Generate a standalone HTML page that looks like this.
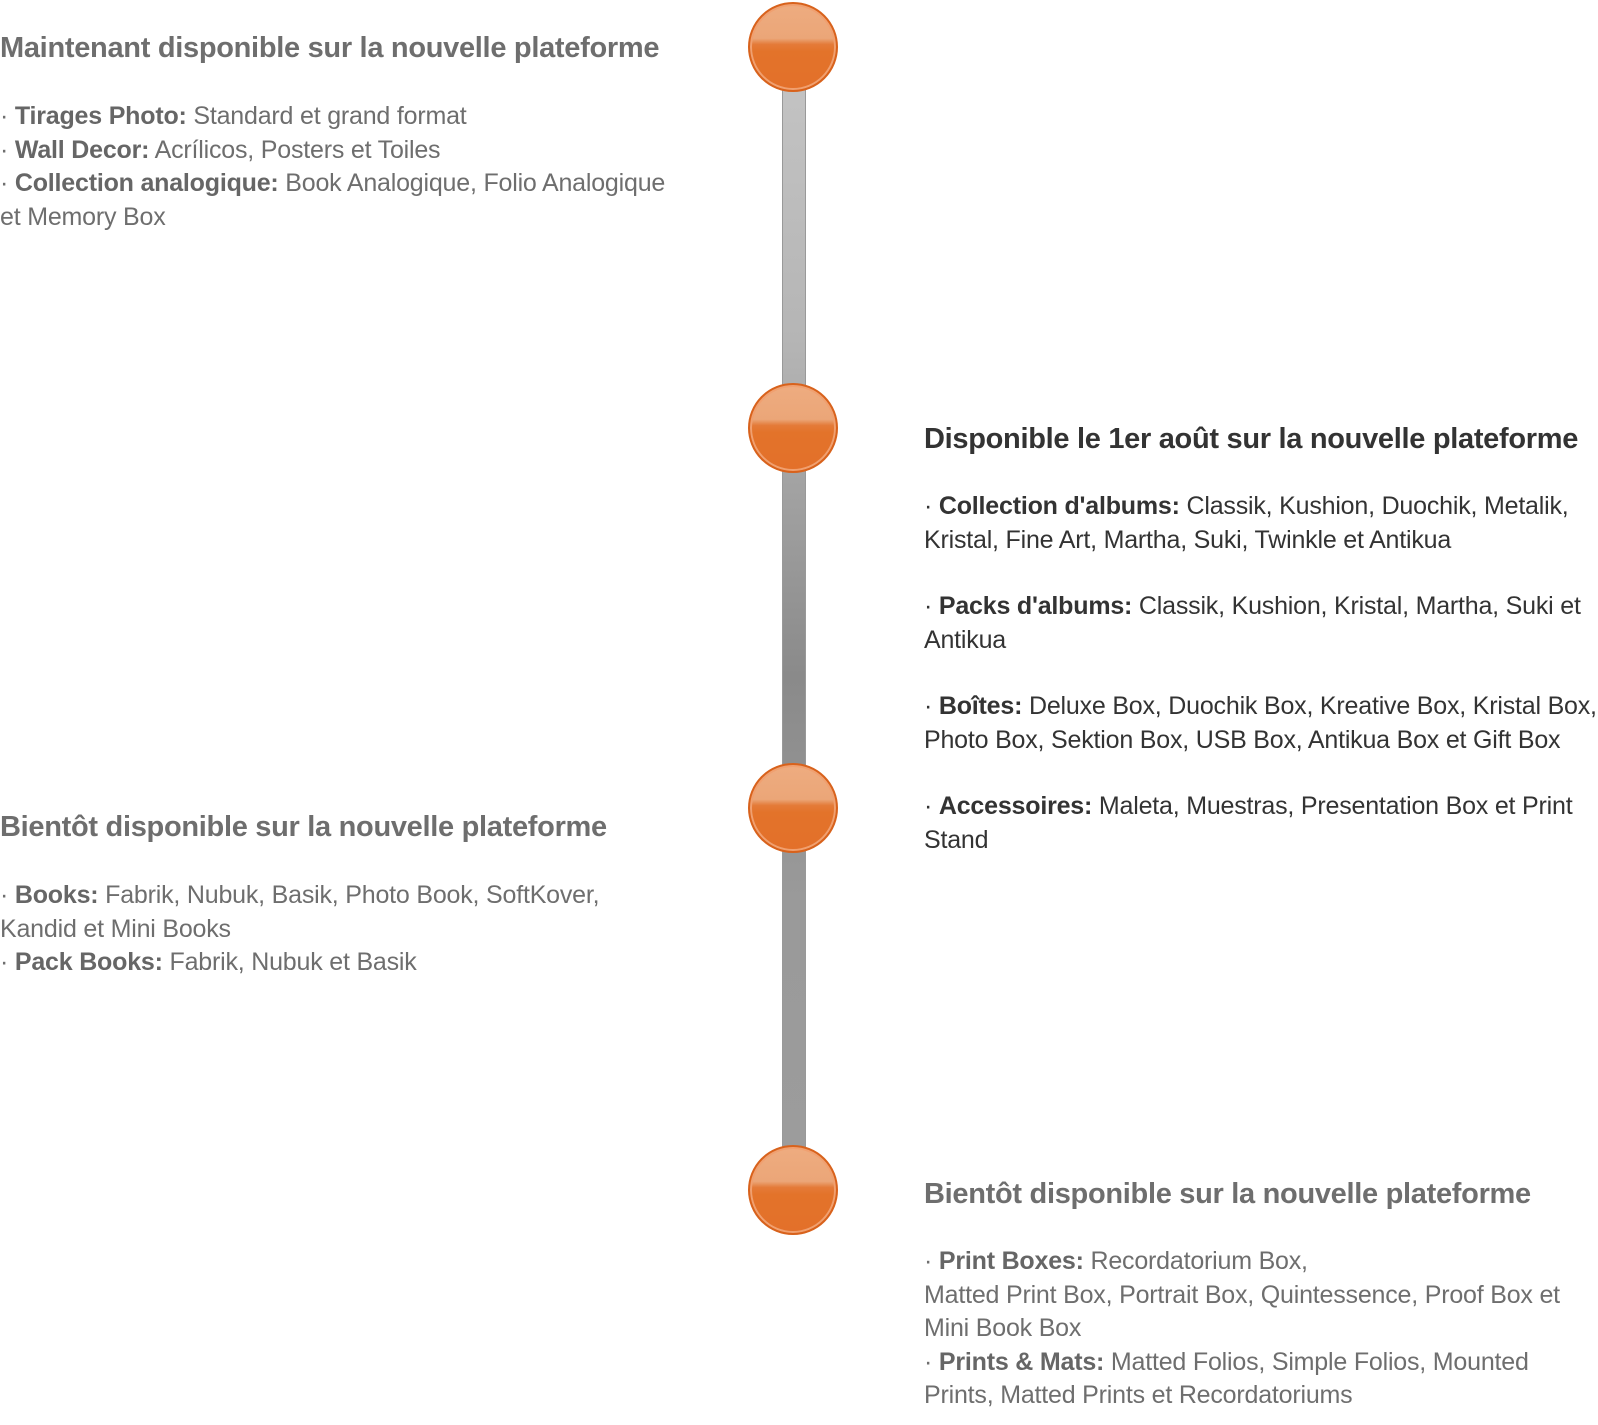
<!DOCTYPE html>
<html><head><meta charset="utf-8"><style>
html,body{margin:0;padding:0;background:#fff;width:1598px;height:1425px;overflow:hidden;position:relative;font-family:"Liberation Sans",sans-serif}
.t{position:absolute;font-weight:bold;font-size:29px;line-height:34px;color:#6e6e6e;white-space:nowrap;letter-spacing:-0.3px}
.b{position:absolute;font-size:25px;line-height:33.5px;color:#6e6e6e;white-space:nowrap;letter-spacing:-0.2px}
.b b{color:#666}
.d,.d b{color:#333}
.bar{position:absolute;left:782px;width:24px;top:60px;height:1120px;background:linear-gradient(#c4c4c4,#b5b5b5 25%,#8a8a8a 55%,#9a9a9a 75%,#9c9c9c);border-left:1px solid #999;border-right:1px solid #999;box-sizing:border-box}
.c{position:absolute;left:748px;width:90px;height:90px;border-radius:50%;box-sizing:border-box;border:2px solid #d8621c;background:linear-gradient(#eeac80 0%,#eba678 40%,#e47a38 47%,#e3732a 55%,#e3702a 100%);box-shadow:inset 0 0 0 2px #f0a070}
</style></head><body>
<div class="bar"></div>
<div class="c" style="top:2px"></div>
<div class="c" style="top:383px"></div>
<div class="c" style="top:763px"></div>
<div class="c" style="top:1145px"></div>

<div class="t" style="left:0;top:31px">Maintenant disponible sur la nouvelle plateforme</div>
<div class="b" style="left:0;top:100px">· <b>Tirages Photo:</b> Standard et grand format<br>· <b>Wall Decor:</b> Acrílicos, Posters et Toiles<br>· <b>Collection analogique:</b> Book Analogique, Folio Analogique<br>et Memory Box</div>

<div class="t d" style="left:924px;top:422px">Disponible le 1er août sur la nouvelle plateforme</div>
<div class="b d" style="left:924px;top:490px">· <b>Collection d'albums:</b> Classik, Kushion, Duochik, Metalik,<br>Kristal, Fine Art, Martha, Suki, Twinkle et Antikua</div>
<div class="b d" style="left:924px;top:590px">· <b>Packs d'albums:</b> Classik, Kushion, Kristal, Martha, Suki et<br>Antikua</div>
<div class="b d" style="left:924px;top:690px">· <b>Boîtes:</b> Deluxe Box, Duochik Box, Kreative Box, Kristal Box,<br>Photo Box, Sektion Box, USB Box, Antikua Box et Gift Box</div>
<div class="b d" style="left:924px;top:790px">· <b>Accessoires:</b> Maleta, Muestras, Presentation Box et Print<br>Stand</div>

<div class="t" style="left:0;top:810px">Bientôt disponible sur la nouvelle plateforme</div>
<div class="b" style="left:0;top:879px">· <b>Books:</b> Fabrik, Nubuk, Basik, Photo Book, SoftKover,<br>Kandid et Mini Books<br>· <b>Pack Books:</b> Fabrik, Nubuk et Basik</div>

<div class="t" style="left:924px;top:1177px">Bientôt disponible sur la nouvelle plateforme</div>
<div class="b" style="left:924px;top:1245px">· <b>Print Boxes:</b> Recordatorium Box,<br>Matted Print Box, Portrait Box, Quintessence, Proof Box et<br>Mini Book Box<br>· <b>Prints &amp; Mats:</b> Matted Folios, Simple Folios, Mounted<br>Prints, Matted Prints et Recordatoriums</div>
</body></html>
